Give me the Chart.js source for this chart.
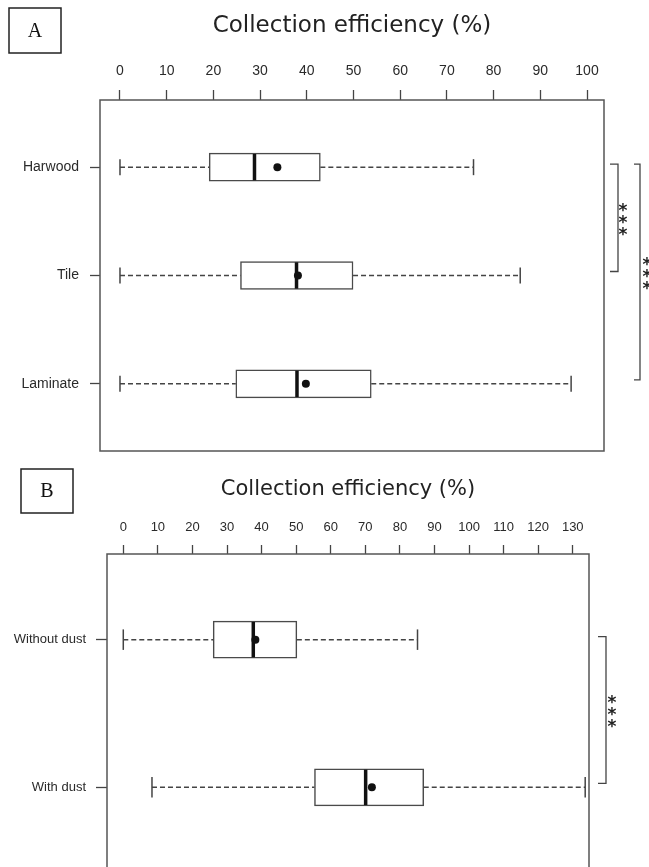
<!DOCTYPE html>
<html>
<head>
<meta charset="utf-8">
<script src="https://cdn.jsdelivr.net/npm/chart.js@4.4.1/dist/chart.umd.min.js"></script>
<style>
  html, body { margin: 0; padding: 0; background: #fff; overflow: hidden; }
  .panel { position: absolute; left: 0; }
</style>
</head>
<body>
<div class="panel" style="top:0"><canvas id="chartA" width="649" height="460"></canvas></div>
<div class="panel" style="top:460px"><canvas id="chartB" width="649" height="420"></canvas></div>
<script>
// A: floor type
const floorTypes = ['Harwood', 'Tile', 'Laminate'];
const floorMin = [0, 0, 0];
const floorQ1 = [19.1, 25.8, 24.8];
const floorMedian = [28.8, 37.8, 37.9];
const floorQ3 = [42.9, 49.9, 53.8];
const floorMax = [75.7, 85.7, 96.6];
const floorMean = [33.7, 38.1, 39.8];
const floorTicks = [0, 10, 20, 30, 40, 50, 60, 70, 80, 90, 100];
const floorSig = [['Harwood', 'Tile', '***'], ['Harwood', 'Laminate', '***']];

// B: dust
const dustGroups = ['Without dust', 'With dust'];
const dustMin = [0, 8.3];
const dustQ1 = [26.0, 55.3];
const dustMedian = [37.6, 70.1];
const dustQ3 = [50.2, 86.9];
const dustMax = [85.1, 133.6];
const dustMean = [38.2, 71.9];
const dustTicks = [0, 10, 20, 30, 40, 50, 60, 70, 80, 90, 100, 110, 120, 130];
const dustSig = [['Without dust', 'With dust', '***']];

const ink = '#444';
Chart.defaults.font.family = '"Liberation Sans", Arial, sans-serif';
Chart.defaults.color = '#2a2a2a';

function line(ctx, x1, y1, x2, y2) {
  ctx.beginPath();
  ctx.moveTo(x1, y1);
  ctx.lineTo(x2, y2);
  ctx.stroke();
}

// whiskers, medians, frame, panel letter and significance brackets
function boxDetails(p) {
  return {
    id: 'boxDetails',
    afterDatasetDraw(chart, args) {
      if (args.index !== 0) return;
      const {ctx, scales: {x, y}} = chart;
      const half = p.boxPx / 2;
      ctx.save();
      p.groups.forEach((g, i) => {
        const yc = y.getPixelForValue(i + 1);
        ctx.strokeStyle = ink;
        ctx.lineWidth = 1.5;
        ctx.setLineDash([5, 3]);
        line(ctx, x.getPixelForValue(p.min[i]), yc, x.getPixelForValue(p.q1[i]), yc);
        line(ctx, x.getPixelForValue(p.q3[i]), yc, x.getPixelForValue(p.max[i]), yc);
        ctx.setLineDash([]);
        const xMin = x.getPixelForValue(p.min[i]);
        const xMax = x.getPixelForValue(p.max[i]);
        line(ctx, xMin, yc - half / 2 - 1, xMin, yc + half / 2 + 1);
        line(ctx, xMax, yc - half / 2 - 1, xMax, yc + half / 2 + 1);
        ctx.strokeStyle = '#111';
        ctx.lineWidth = 3.5;
        const xm = x.getPixelForValue(p.median[i]);
        line(ctx, xm, yc - half + 0.8, xm, yc + half - 0.8);
      });
      ctx.restore();
    },
    afterDraw(chart) {
      const {ctx, chartArea: a, scales: {y}} = chart;
      ctx.save();
      ctx.strokeStyle = '#555';
      ctx.lineWidth = 1.5;
      ctx.strokeRect(a.left, a.top, a.right - a.left, a.bottom - a.top);

      // panel letter
      ctx.strokeStyle = '#222';
      ctx.strokeRect(p.letterBox[0], p.letterBox[1], p.letterBox[2], p.letterBox[3]);
      ctx.fillStyle = '#111';
      ctx.font = '20px "Liberation Serif", "Times New Roman", serif';
      ctx.textAlign = 'center';
      ctx.textBaseline = 'middle';
      ctx.fillText(p.letter, p.letterBox[0] + p.letterBox[2] / 2, p.letterBox[1] + p.letterBox[3] / 2 + 1);

      // brackets
      ctx.strokeStyle = ink;
      ctx.lineWidth = 1.3;
      p.sig.forEach((s, k) => {
        const b = p.brackets[k];
        const top = y.getPixelForValue(p.groups.indexOf(s[0]) + 1) - 3;
        const bot = y.getPixelForValue(p.groups.indexOf(s[1]) + 1) - 4;
        const bx = a.right + b.x;
        ctx.beginPath();
        ctx.moveTo(bx - b.hook, top);
        ctx.lineTo(bx, top);
        ctx.lineTo(bx, bot);
        ctx.lineTo(bx - b.hook, bot);
        ctx.stroke();
        ctx.fillStyle = '#222';
        ctx.font = 'bold 17px "DejaVu Sans", sans-serif';
        ctx.textBaseline = 'alphabetic';
        const mid = (top + bot) / 2;
        const stars = s[2].split('');
        stars.forEach((st, j) => {
          const cy = mid + (j - (stars.length - 1) / 2) * 12;
          ctx.fillText(st, a.right + b.star, cy + 10);
        });
      });
      ctx.restore();
    }
  };
}

function makeChart(id, p) {
  new Chart(document.getElementById(id).getContext('2d'), {
    type: 'bar',
    data: {
      datasets: [{
        type: 'bar',
        data: p.groups.map((g, i) => ({y: i + 1, x: [p.q1[i], p.q3[i]]})),
        backgroundColor: '#fff',
        borderColor: '#4a4a4a',
        borderWidth: 1.5,
        borderSkipped: false,
        barThickness: p.boxPx,
        order: 2
      }, {
        type: 'scatter',
        data: p.groups.map((g, i) => ({x: p.mean[i], y: i + 1})),
        pointRadius: 4,
        pointBackgroundColor: '#111',
        pointBorderWidth: 0,
        order: 1
      }]
    },
    options: {
      indexAxis: 'y',
      responsive: false,
      animation: false,
      events: [],
      layout: {padding: p.padding},
      scales: {
        x: {
          type: 'linear',
          position: 'top',
          offset: false,
          min: p.xMin,
          max: p.xMax,
          afterBuildTicks: s => { s.ticks = p.ticks.map(v => ({value: v})); },
          afterFit: s => { s.height = p.xAxisH; s.paddingLeft = 0; s.paddingRight = 0; },
          ticks: {
            font: {size: p.tickSize},
            padding: p.xTickPad,
            maxRotation: 0,
            autoSkip: false
          },
          grid: {drawOnChartArea: false, offset: false, tickLength: p.tickLen, tickColor: ink, tickWidth: 1.3},
          border: {display: false},
          title: {
            display: true,
            text: 'Collection efficiency (%)',
            color: '#222',
            font: {family: '"DejaVu Sans", sans-serif', size: p.titleSize},
            padding: {top: p.titlePad, bottom: 0}
          }
        },
        y: {
          type: 'linear',
          reverse: true,
          offset: false,
          min: p.yMin,
          max: p.yMax,
          afterBuildTicks: s => { s.ticks = p.groups.map((g, i) => ({value: i + 1})); },
          afterFit: s => { s.width = p.yAxisW; s.paddingTop = 0; s.paddingBottom = 0; },
          ticks: {
            font: {size: p.labelSize},
            padding: p.yTickPad,
            autoSkip: false,
            callback: v => p.groups[v - 1]
          },
          grid: {drawOnChartArea: false, offset: false, tickLength: p.yTickLen, tickColor: ink, tickWidth: 1.3},
          border: {display: false}
        }
      },
      plugins: {legend: {display: false}, tooltip: {enabled: false}}
    },
    plugins: [boxDetails(p)]
  });
}

makeChart('chartA', {
  groups: floorTypes, min: floorMin, q1: floorQ1, median: floorMedian, q3: floorQ3,
  max: floorMax, mean: floorMean, ticks: floorTicks, sig: floorSig,
  xMin: -4.28, xMax: 103.64, yMin: 0.38, yMax: 3.62,
  padding: {left: 0, top: 0, right: 45, bottom: 9},
  xAxisH: 100, yAxisW: 100, tickLen: 10, yTickLen: 10,
  xTickPad: 10.8, yTickPad: 11, tickSize: 14, labelSize: 14,
  titleSize: 23, titlePad: 12, boxPx: 28,
  letter: 'A', letterBox: [9, 8, 52, 45],
  brackets: [{x: 14, hook: 8, star: 19}, {x: 36, hook: 6, star: 43}]
});

makeChart('chartB', {
  groups: dustGroups, min: dustMin, q1: dustQ1, median: dustMedian, q3: dustQ3,
  max: dustMax, mean: dustMean, ticks: dustTicks, sig: dustSig,
  xMin: -4.71, xMax: 134.7, yMin: 0.42, yMax: 2.58,
  padding: {left: 0, top: 0, right: 60, bottom: 7},
  xAxisH: 94, yAxisW: 107, tickLen: 9, yTickLen: 11,
  xTickPad: 10.2, yTickPad: 10, tickSize: 13, labelSize: 13,
  titleSize: 21, titlePad: 16.5, boxPx: 37,
  letter: 'B', letterBox: [21, 9, 52, 44],
  brackets: [{x: 17, hook: 8, star: 23}]
});
</script>
</body>
</html>
